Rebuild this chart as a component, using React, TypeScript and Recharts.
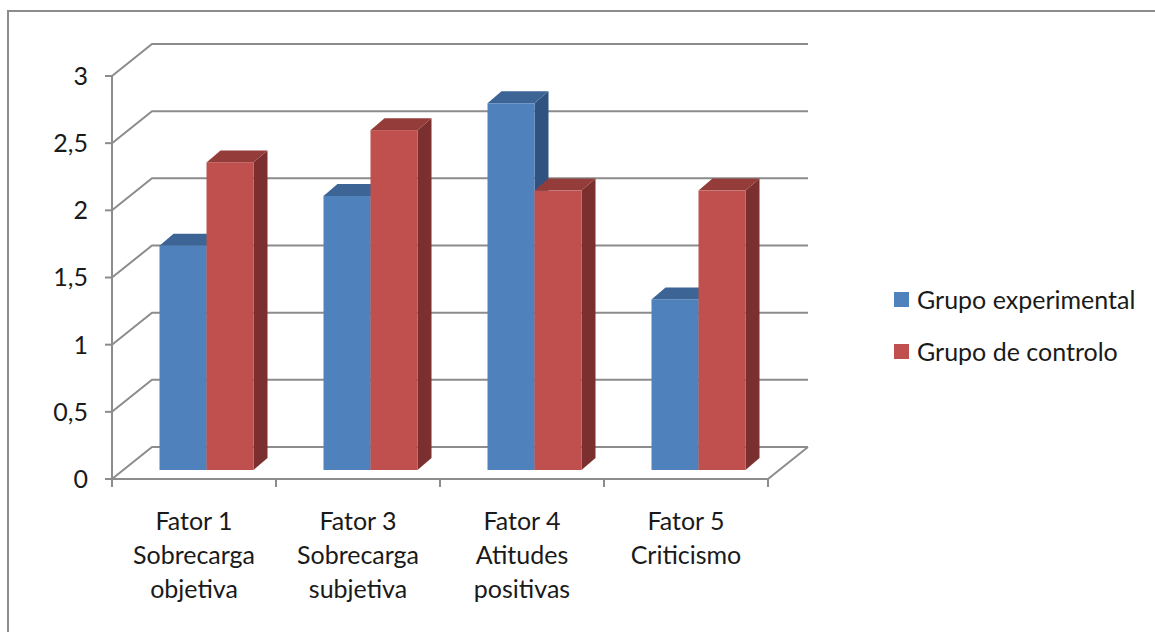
import React from 'react';
import { BarChart, Bar, XAxis, YAxis, CartesianGrid, Legend } from 'recharts';

const categories = [
    ['Fator 1', 'Sobrecarga', 'objetiva'],
    ['Fator 3', 'Sobrecarga', 'subjetiva'],
    ['Fator 4', 'Atitudes', 'positivas'],
    ['Fator 5', 'Criticismo'],
];
const grupoExperimental = [1.67, 2.04, 2.73, 1.27];
const grupoControlo = [2.29, 2.53, 2.08, 2.08];
const yTicks = [0, 0.5, 1, 1.5, 2, 2.5, 3];

const data = categories.map((lines, i) => ({
    name: lines.join(' '),
    lines,
    exp: grupoExperimental[i],
    ctrl: grupoControlo[i],
}));

const W = 1155;
const H = 632;
const LEFT = 112;
const TOP = 76;
const RIGHT = 768;
const BOTTOM = 479;
const BAND = (RIGHT - LEFT) / categories.length;
const FONT = 'Lato, "Open Sans", sans-serif';
const GRID = '#8c8c8c';

// depth of the back wall and of each column
const WALL_DX = 40;
const WALL_DY = -32;
const FACE_DX = 12;
const FACE_DY = -9;
const DEPTH_DX = 14;
const DEPTH_DY = -12;

const make3dBar = (front: string, top: string, side: string) => (props: any) => {
    const { x, y, width, height } = props;
    if (width == null || height == null) return <g />;
    const fx = x + FACE_DX;
    const fy = y + FACE_DY;
    const topPts = `${fx},${fy} ${fx + DEPTH_DX},${fy + DEPTH_DY} ${fx + width + DEPTH_DX},${fy + DEPTH_DY} ${fx + width},${fy}`;
    const sidePts = `${fx + width},${fy} ${fx + width + DEPTH_DX},${fy + DEPTH_DY} ${fx + width + DEPTH_DX},${fy + height + DEPTH_DY} ${fx + width},${fy + height}`;
    return (
        <g>
            <polygon points={sidePts} fill={side} />
            <polygon points={topPts} fill={top} />
            <rect x={fx} y={fy} width={width} height={height} fill={front} />
        </g>
    );
};

const gridLine = (p: any) => {
    const { x1, x2, y1 } = p;
    const isFloor = Math.abs(y1 - BOTTOM) < 1;
    let d = `M${x1},${y1} L${x1 + WALL_DX},${y1 + WALL_DY} L${x2 + WALL_DX},${y1 + WALL_DY}`;
    if (isFloor) d += ` M${x2},${y1} L${x2 + WALL_DX},${y1 + WALL_DY}`;
    return <path key={p.key} d={d} stroke={GRID} strokeWidth={2} fill="none" />;
};

const XTick = (props: any) => {
    const { x, y, payload, index } = props;
    const lines: string[] = data[index]?.lines ?? [payload.value];
    return (
        <g>
            <line x1={x - BAND / 2} y1={y} x2={x - BAND / 2} y2={y + 8} stroke={GRID} strokeWidth={2} />
            {index === categories.length - 1 && (
                <line x1={x + BAND / 2} y1={y} x2={x + BAND / 2} y2={y + 8} stroke={GRID} strokeWidth={2} />
            )}
            {lines.map((l, i) => (
                <text key={i} x={x} y={y + 41 + i * 34} textAnchor="middle" dominantBaseline="central"
                    fontFamily={FONT} fontSize={25} fill="#1a1a1a">{l}</text>
            ))}
        </g>
    );
};

const legendItems = [
    { label: 'Grupo experimental', color: '#4F81BD' },
    { label: 'Grupo de controlo', color: '#C0504D' },
];

const LegendBox = () => (
    <div style={{ fontFamily: FONT, fontSize: 25, color: '#1a1a1a' }}>
        {legendItems.map((it) => (
            <div key={it.label} style={{ display: 'flex', alignItems: 'center', height: 52 }}>
                <span style={{ width: 15, height: 15, background: it.color, marginRight: 8, display: 'inline-block' }} />
                <span>{it.label}</span>
            </div>
        ))}
    </div>
);

const App: React.FC = () => {
    return (
        <div style={{ position: 'absolute', left: 0, top: 0, width: W, height: H, background: '#fff' }}>
            <div style={{ position: 'absolute', left: 7, top: 10, width: W, height: H, borderLeft: `2px solid ${GRID}`, borderTop: `2px solid ${GRID}` }} />
            <div style={{ position: 'absolute', left: 0, top: 0 }}>
                <BarChart width={W} height={H} data={data}
                    margin={{ top: TOP, right: W - RIGHT, bottom: 0, left: 0 }}
                    barCategoryGap={35.5} barGap={0}>
                    <CartesianGrid vertical={false} horizontal={gridLine} />
                    <XAxis dataKey="name" tick={<XTick />} tickLine={false} tickSize={0} tickMargin={0}
                        axisLine={{ stroke: GRID, strokeWidth: 2 }} interval={0} height={H - BOTTOM} />
                    <YAxis domain={[0, 3]} ticks={yTicks} width={LEFT} tickSize={7} tickMargin={17}
                        tickFormatter={(v: number) => String(v).replace('.', ',')}
                        tick={{ fontFamily: FONT, fontSize: 25, fill: '#1a1a1a' }}
                        tickLine={{ stroke: GRID, strokeWidth: 2 }} axisLine={{ stroke: GRID, strokeWidth: 2 }} />
                    <Legend layout="horizontal" align="center" verticalAlign="middle" content={<LegendBox />}
                        wrapperStyle={{ left: 894, top: 273, width: 260, height: 104 }} />
                    <Bar dataKey="exp" name="Grupo experimental" fill="#4F81BD" isAnimationActive={false}
                        shape={make3dBar('#4F81BD', '#3C6494', '#2F5281')} />
                    <Bar dataKey="ctrl" name="Grupo de controlo" fill="#C0504D" isAnimationActive={false}
                        shape={make3dBar('#C0504D', '#943C3A', '#7B302F')} />
                </BarChart>
            </div>
        </div>
    );
};

export default App;
